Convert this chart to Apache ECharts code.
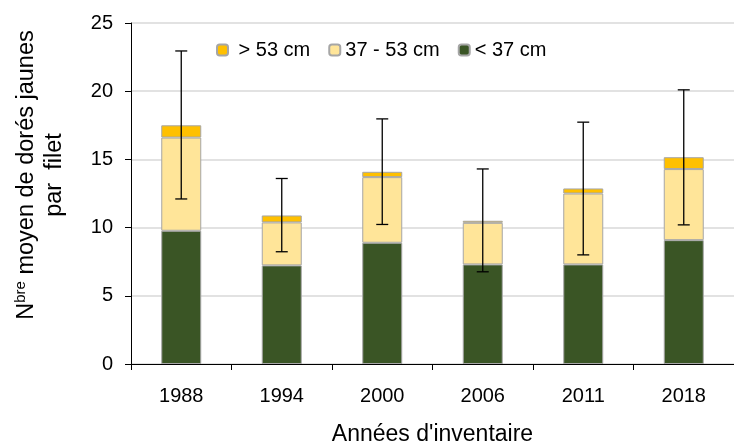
<!DOCTYPE html>
<html>
<head>
<meta charset="utf-8">
<script src="https://cdn.jsdelivr.net/npm/echarts@6/dist/echarts.min.js"></script>
<style>
html,body{margin:0;padding:0;background:#fff;}
#chart{width:734px;height:442px;}
</style>
</head>
<body>
<div id="chart"></div>
<script>
var years = ['1988', '1994', '2000', '2006', '2011', '2018'];
var small = [9.77, 7.23, 8.89, 7.30, 7.30, 9.08];      // < 37 cm
var medium = [6.83, 3.15, 4.81, 3.05, 5.20, 5.21];     // 37 - 53 cm
var large = [0.90, 0.51, 0.39, 0.15, 0.37, 0.87];      // > 53 cm
var errLow = [12.1, 8.23, 10.23, 6.76, 8.0, 10.2];
var errHigh = [22.95, 13.6, 17.97, 14.3, 17.73, 20.1];
var yTicks = [0, 5, 10, 15, 20, 25];

var FONT = 'Liberation Sans, Arial, sans-serif';
var FS = 20;
var chart = echarts.init(document.getElementById('chart'));

var errData = years.map(function (y, i) { return [i, errLow[i], errHigh[i]]; });

var barBorder = { borderColor: '#a6a6a6', borderWidth: 1 };

chart.setOption({
  animation: false,
  textStyle: { fontFamily: FONT },
  grid: { left: 131, right: 0, top: 23, bottom: 78, containLabel: false, outerBoundsMode: 'none' },
  legend: {
    left: 211, top: 35,
    itemWidth: 11, itemHeight: 11, itemGap: 18,
    formatter: function (n) { return n === '> 53 cm' ? ' ' + n : n; },
    textStyle: { fontSize: FS, color: '#000', fontFamily: FONT },
    data: ['> 53 cm', '37 - 53 cm', '< 37 cm']
  },
  xAxis: {
    type: 'category',
    data: years,
    name: "Années d'inventaire",
    nameLocation: 'middle',
    nameGap: 59,
    nameTextStyle: { fontSize: 23, color: '#000', fontFamily: FONT },
    axisLine: { lineStyle: { color: '#000', width: 1 } },
    axisTick: { show: true, length: 6, lineStyle: { color: '#000' } },
    axisLabel: { fontSize: FS, color: '#000', margin: 22, fontFamily: FONT }
  },
  yAxis: {
    type: 'value',
    min: yTicks[0], max: yTicks[yTicks.length - 1], interval: 5,
    name: '{n|N}{sup|bre}{n| moyen de dorés jaunes}\n{n|par  filet}',
    nameLocation: 'middle',
    nameGap: 62,
    nameTextStyle: {
      fontSize: 23.5, color: '#000', fontFamily: FONT, align: 'center',
      padding: [0, 0, 0, 37],
      rich: {
        n: { fontSize: 23.5, color: '#000', fontFamily: FONT, lineHeight: 28 },
        sup: { fontSize: 15, color: '#000', fontFamily: FONT, verticalAlign: 'top', lineHeight: 28, padding: [0, 0, 9, 0] }
      }
    },
    axisLine: { show: true, lineStyle: { color: '#000', width: 1 } },
    axisTick: { show: true, length: 6, lineStyle: { color: '#000' } },
    axisLabel: { fontSize: FS, color: '#000', margin: 18, fontFamily: FONT },
    splitLine: { lineStyle: { color: '#d9d9d9', width: 1.5 } }
  },
  series: [
    {
      name: '< 37 cm', type: 'bar', stack: 'total', barWidth: 40,
      itemStyle: Object.assign({ color: '#3a5525' }, barBorder),
      data: small
    },
    {
      name: '37 - 53 cm', type: 'bar', stack: 'total', barWidth: 40,
      itemStyle: Object.assign({ color: '#ffe599' }, barBorder),
      data: medium
    },
    {
      name: '> 53 cm', type: 'bar', stack: 'total', barWidth: 40,
      itemStyle: Object.assign({ color: '#ffc000' }, barBorder),
      data: large
    },
    {
      name: 'err', type: 'custom',
      z: 10,
      data: errData,
      renderItem: function (params, api) {
        var x = api.value(0);
        var lo = api.coord([x, api.value(1)]);
        var hi = api.coord([x, api.value(2)]);
        var hw = 6;
        var st = { stroke: '#000', lineWidth: 1.3 };
        return {
          type: 'group',
          children: [
            { type: 'line', shape: { x1: lo[0], y1: lo[1], x2: hi[0], y2: hi[1] }, style: st },
            { type: 'line', shape: { x1: lo[0] - hw, y1: lo[1], x2: lo[0] + hw, y2: lo[1] }, style: st },
            { type: 'line', shape: { x1: hi[0] - hw, y1: hi[1], x2: hi[0] + hw, y2: hi[1] }, style: st }
          ]
        };
      }
    }
  ]
});
</script>
</body>
</html>
